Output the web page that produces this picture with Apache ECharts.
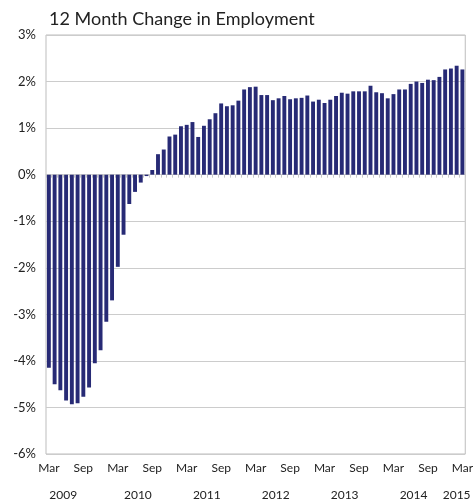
<!DOCTYPE html>
<html><head><meta charset="utf-8">
<script src="https://cdn.jsdelivr.net/npm/echarts@6/dist/echarts.min.js"></script>
<style>html,body{margin:0;padding:0;background:#fff}#c{width:476px;height:501px}</style>
</head><body><div id="c"></div>
<script>
const monthNames = ['Jan','Feb','Mar','Apr','May','Jun','Jul','Aug','Sep','Oct','Nov','Dec'];
// Mar 2009 .. Mar 2015 (73 months)
const months = [];
for (let y = 2009, m = 2; y < 2015 || (y === 2015 && m <= 2); ) {
  months.push(monthNames[m] + ' ' + y);
  m++; if (m > 11) { m = 0; y++; }
}
const changePct = [
  -4.15, -4.50, -4.63, -4.85, -4.93, -4.91, -4.77, -4.57, -4.05, -3.77,
  -3.16, -2.70, -1.98, -1.29, -0.63, -0.37, -0.17, -0.03, 0.10, 0.44,
  0.54, 0.82, 0.86, 1.04, 1.07, 1.13, 0.81, 1.05, 1.19, 1.32,
  1.53, 1.47, 1.49, 1.59, 1.83, 1.88, 1.89, 1.71, 1.71, 1.60,
  1.64, 1.69, 1.62, 1.64, 1.65, 1.70, 1.57, 1.61, 1.54, 1.61,
  1.69, 1.76, 1.74, 1.79, 1.79, 1.79, 1.91, 1.77, 1.75, 1.64,
  1.73, 1.83, 1.83, 1.95, 2.00, 1.97, 2.04, 2.03, 2.10, 2.26,
  2.28, 2.34, 2.26
];
const yTicks = [-6, -5, -4, -3, -2, -1, 0, 1, 2, 3];
const yearLabels = ['2009', '2010', '2011', '2012', '2013', '2014', '2015'];
const yearLabelPos = [2.5, 15.5, 27.5, 39.5, 51.5, 63.5, 71];

const chart = echarts.init(document.getElementById('c'), null, {renderer: 'canvas'});
const font = 'Lato, "Open Sans", sans-serif';
chart.setOption({
  animation: false,
  title: {
    text: '12 Month Change in Employment',
    left: 44, top: 5,
    textStyle: {fontFamily: font, fontSize: 18, fontWeight: 'normal', color: '#222'}
  },
  grid: {left: 46, right: 5, top: 35, bottom: 47, show: true, borderColor: '#bdbdbd', borderWidth: 1},
  xAxis: [
    {
      type: 'category', data: months, position: 'bottom',
      axisLine: {onZero: true, lineStyle: {color: '#cfcfcf'}},
      axisTick: {show: true, interval: 0, length: 3, lineStyle: {color: '#c8c8c8'}},
      axisLabel: {show: false}
    },
    {
      type: 'category', data: months, position: 'bottom',
      axisLine: {show: false}, axisTick: {show: false},
      axisLabel: {
        interval: 5, margin: 8, color: '#222', fontFamily: font, fontSize: 12,
        formatter: v => v.split(' ')[0]
      }
    },
    {
      type: 'value', min: -0.5, max: months.length - 0.5, position: 'bottom', offset: 27,
      axisLine: {show: false}, axisTick: {show: false}, splitLine: {show: false},
      axisLabel: {
        customValues: yearLabelPos, color: '#222', fontFamily: font, fontSize: 12,
        showMinLabel: true, showMaxLabel: true,
        formatter: v => yearLabels[yearLabelPos.indexOf(v)]
      }
    }
  ],
  yAxis: {
    type: 'value', min: yTicks[0], max: yTicks[yTicks.length - 1], interval: 1,
    axisLine: {show: false}, axisTick: {show: false},
    splitLine: {lineStyle: {color: '#cccccc', width: 1}},
    axisLabel: {margin: 10, color: '#222', fontFamily: font, fontSize: 13, formatter: '{value}%'}
  },
  series: [{
    type: 'bar', data: changePct, xAxisIndex: 0,
    barCategoryGap: '32%',
    itemStyle: {color: '#272a75'}
  }]
});
</script></body></html>
